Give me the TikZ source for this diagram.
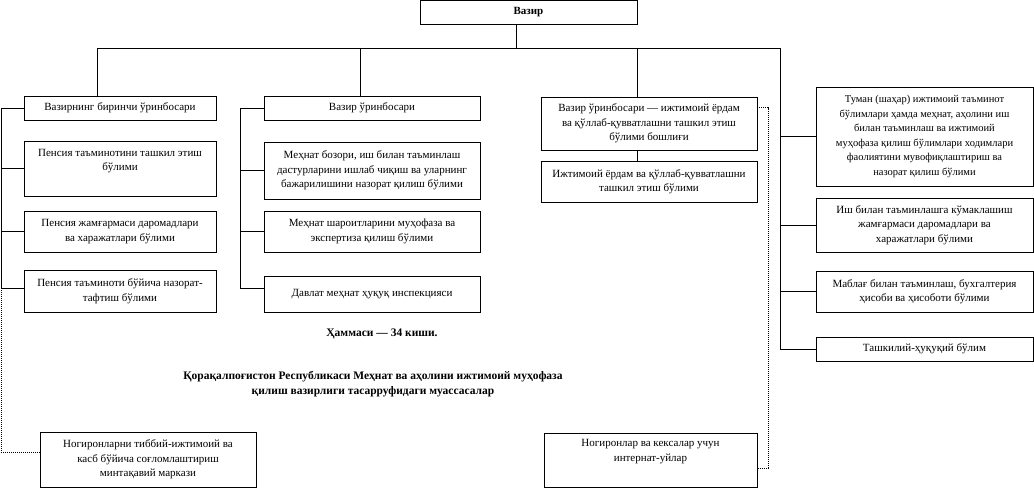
\documentclass[tikz,border=0pt]{standalone}
\usepackage{fontspec}
\setmainfont{Liberation Serif}
\usetikzlibrary{calc}
\begin{document}
\begin{tikzpicture}[x=1pt,y=-1pt,
  line width=0.9pt,
  box/.style={draw, line width=0.9pt, inner sep=0pt, align=center,
    font=\fontsize{11}{14.5}\selectfont},
  lbl/.style={align=center, inner sep=0pt, font=\bfseries\fontsize{11.5}{15.5}\selectfont},
  dotline/.style={line width=0.9pt, dash pattern=on 1pt off 1pt}]
\useasboundingbox (0,0) rectangle (1034,488);
% top
\node[box, minimum width=217pt, minimum height=24pt, font=\bfseries\fontsize{11}{14.5}\selectfont] (V) at (528.5,12) {Вазир};
% left column
\node[box, minimum width=192pt, minimum height=24pt] (L1) at (120,108) {Вазирнинг биринчи ўринбосари};
\node[box, minimum width=192pt, minimum height=55pt] (L2) at (120,168.5) {Пенсия таъминотини ташкил этиш\\бўлими\\[3pt]};
\node[box, minimum width=192pt, minimum height=41pt] (L3) at (120,231.5) {Пенсия жамғармаси даромадлари\\ва харажатлари бўлими};
\node[box, minimum width=192pt, minimum height=42pt] (L4) at (120,291) {Пенсия таъминоти бўйича назорат-\\тафтиш бўлими};
\node[box, minimum width=216pt, minimum height=55pt] (LB) at (148,459.5) {Ногиронларни тиббий-ижтимоий ва\\касб бўйича соғломлаштириш\\минтақавий маркази};
% middle column
\node[box, minimum width=216pt, minimum height=24pt] (M1) at (372,108) {Вазир ўринбосари};
\node[box, minimum width=216pt, minimum height=57pt] (M2) at (372,170.5) {Меҳнат бозори, иш билан таъминлаш\\дастурларини ишлаб чиқиш ва уларнинг\\бажарилишини назорат қилиш бўлими};
\node[box, minimum width=216pt, minimum height=41pt] (M3) at (372,231.5) {Меҳнат шароитларини муҳофаза ва\\экспертиза қилиш бўлими};
\node[box, minimum width=216pt, minimum height=36pt] (M4) at (372,294) {Давлат меҳнат ҳуқуқ инспекцияси};
% right-middle column
\node[box, minimum width=216pt, minimum height=53pt] (R1) at (649,123.5) {Вазир ўринбосари — ижтимоий ёрдам\\ва қўллаб-қувватлашни ташкил этиш\\бўлими бошлиғи};
\node[box, minimum width=216pt, minimum height=41pt] (R2) at (649,181.5) {Ижтимоий ёрдам ва қўллаб-қувватлашни\\ташкил этиш бўлими};
\node[box, minimum width=213pt, minimum height=54pt] (RB) at (650.5,460) {Ногиронлар ва кексалар учун\\интернат-уйлар\\\strut};
% far right column
\node[box, minimum width=217pt, minimum height=99pt, font=\fontsize{10.5}{14.5}\selectfont] (F1) at (924.5,136.5) {Туман (шаҳар) ижтимоий таъминот\\бўлимлари ҳамда меҳнат, аҳолини иш\\билан таъминлаш ва ижтимоий\\муҳофаза қилиш бўлимлари ходимлари\\фаолиятини мувофиқлаштириш ва\\назорат қилиш бўлими};
\node[box, minimum width=217pt, minimum height=54pt] (F2) at (924.5,225) {Иш билан таъминлашга кўмаклашиш\\жамғармаси даромадлари ва\\харажатлари бўлими};
\node[box, minimum width=217pt, minimum height=41pt] (F3) at (924.5,291.5) {Маблағ билан таъминлаш, бухгалтерия\\ҳисоби ва ҳисоботи бўлими};
\node[box, minimum width=217pt, minimum height=24pt] (F4) at (924.5,349) {Ташкилий-ҳуқуқий бўлим};
% labels
\node[lbl] (total) at (382,334) {Ҳаммаси — 34 киши.};
\node[lbl] (title) at (373,384) {Қорақалпоғистон Республикаси Меҳнат ва аҳолини ижтимоий муҳофаза\\қилиш вазирлиги тасарруфидаги муассасалар};
% junction coordinates
\coordinate (busc) at (516,48);
\coordinate (busL) at (97,48);
\coordinate (busM) at (360,48);
\coordinate (busR1) at (637,48);
\coordinate (busR) at (780,48);
\coordinate (lx) at (1,0);
\coordinate (mx) at (240,0);
\coordinate (rx) at (768,0);
% tree connectors
\draw (V.south -| busc) -- (busc);
\draw (busL) -- (busR);
\draw (busL) -- (busL |- L1.north);
\draw (busM) -- (busM |- M1.north);
\draw (busR1) -- (busR1 |- R1.north);
\draw (busR) |- (F4.west);
\draw (busR |- F1.west) -- (F1.west);
\draw (busR |- F2.west) -- (F2.west);
\draw (busR |- F3.west) -- (F3.west);
\draw (R1.south -| busR1) -- (R2.north -| busR1);
% left column
\draw (L1.west) -- (L1.west -| lx) |- ($(L4.west)+(0,-3)$);
\draw (L2.west) -- (L2.west -| lx);
\draw (L3.west) -- (L3.west -| lx);
% middle column
\draw (M1.west) -- (M1.west -| mx) |- ($(M4.west)+(0,-6)$);
\draw (M2.west) -- (M2.west -| mx);
\draw (M3.west) -- (M3.west -| mx);
% dotted links
\draw[dotline] ($(L4.west -| lx)+(0,-3)$) |- ($(LB.west)+(0,-7.5)$);
\draw[dotline] ($(R1.north east)+(0,11)$) -- ($(R1.north east -| rx)+(0,11)$) |- ($(RB.east)+(0,8)$);
\end{tikzpicture}
\end{document}
